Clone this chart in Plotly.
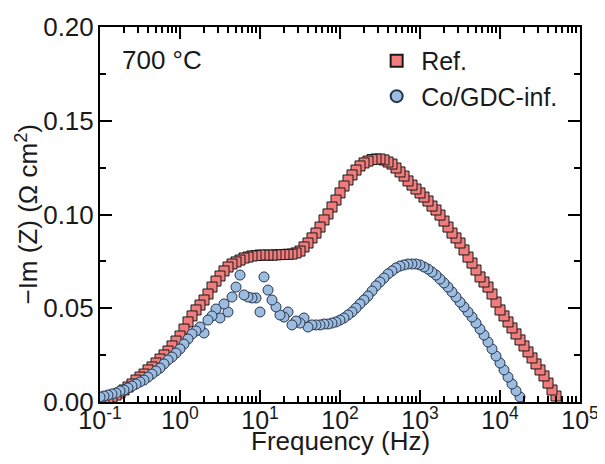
import plotly.graph_objects as go

freq_hz = [
    0.1, 0.1122, 0.1259, 0.1413, 0.1585, 0.1778, 0.1995, 0.2239, 0.2512, 0.2818,
    0.3162, 0.3548, 0.3981, 0.4467, 0.5012, 0.5623, 0.6310, 0.7079, 0.7943, 0.8913,
    1.0, 1.122, 1.259, 1.413, 1.585, 1.778, 1.995, 2.239, 2.512, 2.818,
    3.162, 3.548, 3.981, 4.467, 5.012, 5.623, 6.310, 7.079, 7.943, 8.913,
    10.0, 11.22, 12.59, 14.13, 15.85, 17.78, 19.95, 22.39, 25.12, 28.18,
    31.62, 35.48, 39.81, 44.67, 50.12, 56.23, 63.10, 70.79, 79.43, 89.13,
    100.0, 112.2, 125.9, 141.3, 158.5, 177.8, 199.5, 223.9, 251.2, 281.8,
    316.2, 354.8, 398.1, 446.7, 501.2, 562.3, 631.0, 707.9, 794.3, 891.3,
    1000, 1122, 1259, 1413, 1585, 1778, 1995, 2239, 2512, 2818,
    3162, 3548, 3981, 4467, 5012, 5623, 6310, 7079, 7943, 8913,
    10000, 11220, 12590, 14130, 15850, 17780, 19950, 22390, 25120, 28180,
    31620, 35480, 39810, 44670, 50120,
]

ref_im = [
    0.0011, 0.0013, 0.0016, 0.0027, 0.0037, 0.0048, 0.0064, 0.0080, 0.0096, 0.0117,
    0.0133, 0.0149, 0.0171, 0.0187, 0.0208, 0.0229, 0.0251, 0.0272, 0.0299, 0.0325,
    0.0352, 0.0389, 0.0427, 0.0459, 0.0491, 0.0517, 0.0544, 0.0576, 0.0613, 0.0645,
    0.0672, 0.0699, 0.0720, 0.0736, 0.0747, 0.0757, 0.0768, 0.0773, 0.0779, 0.0781,
    0.0784, 0.0783, 0.0784, 0.0783, 0.0785, 0.0786, 0.0787, 0.0788, 0.0789, 0.0795,
    0.0805, 0.0827, 0.0848, 0.0875, 0.0901, 0.0933, 0.0971, 0.1003, 0.1040, 0.1077,
    0.1115, 0.1152, 0.1184, 0.1211, 0.1237, 0.1259, 0.1275, 0.1285, 0.1293, 0.1296,
    0.1296, 0.1291, 0.1280, 0.1269, 0.1248, 0.1227, 0.1205, 0.1179, 0.1157, 0.1136,
    0.1115, 0.1093, 0.1072, 0.1045, 0.1024, 0.0997, 0.0965, 0.0933, 0.0901, 0.0875,
    0.0848, 0.0811, 0.0773, 0.0741, 0.0704, 0.0667, 0.0640, 0.0613, 0.0576, 0.0533,
    0.0491, 0.0459, 0.0427, 0.0395, 0.0363, 0.0331, 0.0299, 0.0267, 0.0235, 0.0203,
    0.0171, 0.0139, 0.0101, 0.0064, 0.0032,
]

cogdc_im = [
    0.0027, 0.0032, 0.0037, 0.0043, 0.0048, 0.0059, 0.0064, 0.0075, 0.0085, 0.0096,
    0.0107, 0.0117, 0.0133, 0.0149, 0.0165, 0.0181, 0.0203, 0.0224, 0.0240, 0.0261,
    0.0283, 0.0309, 0.0336, 0.0363, 0.0379, 0.0400, 0.0368, 0.0437, 0.0459, 0.0496,
    0.0448, 0.0523, 0.0480, 0.0560, 0.0613, 0.0677, 0.0571, 0.0560, 0.0555, 0.0555,
    0.0480, 0.0667, 0.0597, 0.0544, 0.0507, 0.0464, 0.0453, 0.0480, 0.0411, 0.0432,
    0.0421, 0.0448, 0.0400, 0.0411, 0.0411, 0.0411, 0.0416, 0.0416, 0.0421, 0.0427,
    0.0437, 0.0448, 0.0464, 0.0480, 0.0501, 0.0523, 0.0544, 0.0565, 0.0592, 0.0619,
    0.0640, 0.0661, 0.0683, 0.0699, 0.0715, 0.0725, 0.0731, 0.0736, 0.0736, 0.0736,
    0.0731, 0.0720, 0.0709, 0.0693, 0.0677, 0.0656, 0.0635, 0.0613, 0.0587, 0.0560,
    0.0533, 0.0507, 0.0480, 0.0453, 0.0421, 0.0389, 0.0357, 0.0320, 0.0283, 0.0245,
    0.0208, 0.0171, 0.0133, 0.0096, 0.0059, 0.0027,
]

series_names = ["Ref.", "Co/GDC-inf."]
x_tickvals = [0.1, 1, 10, 100, 1000, 10000, 100000]
x_ticktext = ["10<sup>-1</sup>", "10<sup>0</sup>", "10<sup>1</sup>", "10<sup>2</sup>",
              "10<sup>3</sup>", "10<sup>4</sup>", "10<sup>5</sup>"]
y_tickvals = [0.0, 0.05, 0.10, 0.15, 0.20]
y_ticktext = ["0.00", "0.05", "0.10", "0.15", "0.20"]

FONT = "Liberation Sans, Arial, sans-serif"
TXT = "#1a1a1a"

fig = go.Figure()

# measured high -> low frequency, so low-frequency points are drawn on top
fig.add_trace(go.Scatter(
    x=freq_hz[::-1], y=ref_im[::-1], mode="markers", name=series_names[0],
    marker=dict(symbol="square", size=10, color="#f27c7c",
                line=dict(color="#1a1a1a", width=1)),
))
n_b = len(cogdc_im)
fig.add_trace(go.Scatter(
    x=freq_hz[:n_b][::-1], y=cogdc_im[::-1], mode="markers", name=series_names[1],
    marker=dict(symbol="circle", size=10, color="#9dbde0",
                line=dict(color="#26354d", width=1)),
))

axis_common = dict(
    showline=True, linecolor="black", linewidth=2, mirror="ticks",
    ticks="inside", ticklen=12, tickwidth=1.5, tickcolor="black",
    showgrid=False, zeroline=False, automargin=False,
)

fig.update_xaxes(
    type="log", range=[-1, 5],
    tickvals=x_tickvals, ticktext=x_ticktext,
    tickfont=dict(family=FONT, size=25, color=TXT),
    minor=dict(ticks="inside", ticklen=6, tickwidth=1.5, tickcolor="black", dtick="D1", showgrid=False),
    ticklabelstandoff=-5,
    **axis_common,
)
fig.update_yaxes(
    range=[0, 0.2],
    tickvals=y_tickvals, ticktext=y_ticktext,
    tickfont=dict(family=FONT, size=26, color=TXT),
    minor=dict(ticks="inside", ticklen=6, tickwidth=1.5, tickcolor="black", dtick=0.025, showgrid=False),
    ticklabelstandoff=-1,
    **axis_common,
)

# axis titles
fig.add_annotation(
    text="Frequency (Hz)", xref="paper", yref="paper", x=0.5, y=-0.105,
    xanchor="center", yanchor="middle", showarrow=False,
    font=dict(family=FONT, size=26, color=TXT),
)
fig.add_annotation(
    text="−Im (Z) (Ω cm<sup>2</sup>)", xref="paper", yref="paper", x=-0.152, y=0.5,
    xanchor="center", yanchor="middle", textangle=-90, showarrow=False,
    font=dict(family=FONT, size=26, color=TXT),
)

fig.add_annotation(
    text="700 °C", xref="paper", yref="paper", x=0.0417, y=0.912,
    xanchor="left", yanchor="middle", showarrow=False,
    font=dict(family=FONT, size=26, color=TXT),
)

# the page body adds an 8 px margin, so the figure is 8 px smaller on each axis
fig.update_layout(
    width=597, height=456,
    margin=dict(l=92, r=25, t=19, b=62),
    paper_bgcolor="white", plot_bgcolor="white",
    showlegend=True,
    legend=dict(x=0.567, y=0.971, xanchor="left", yanchor="top",
                bgcolor="rgba(0,0,0,0)", borderwidth=0, itemwidth=39,
                font=dict(family=FONT, size=25, color=TXT),
                traceorder="normal", itemsizing="constant"),
)

fig.write_html("out.html")
